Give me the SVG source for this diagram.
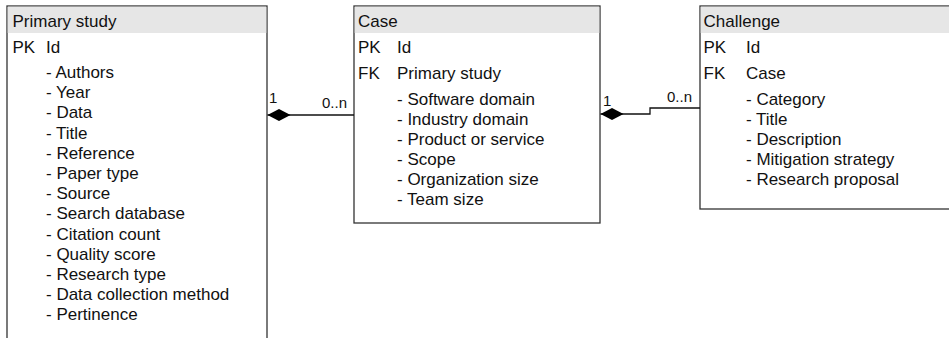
<svg xmlns="http://www.w3.org/2000/svg" width="949" height="338" viewBox="0 0 949 338">
<defs>
<style>
.box{fill:#ffffff;stroke:#333333;stroke-width:1.3}
.hdr{fill:#e6e6e6;stroke:none}
.t{font-family:"Liberation Sans",Arial,Helvetica,sans-serif;font-size:17px;fill:#111111}
.lbl{font-family:"Liberation Sans",Arial,Helvetica,sans-serif;font-size:15px;fill:#111111}
.edge{fill:none;stroke:#111111;stroke-width:1.3}
</style>
<marker id="diamond" markerUnits="userSpaceOnUse" markerWidth="24" markerHeight="14" refX="0" refY="6" orient="auto" overflow="visible">
<path d="M0,6 L11.5,0 L23,6 L11.5,12 Z" fill="#000000" stroke="none"/>
</marker>
</defs>
<rect width="949" height="338" fill="#ffffff"/>

<g id="primary-study">
<rect class="box" x="7" y="6" width="260" height="345"/>
<rect class="hdr" x="7.7" y="6.7" width="258.6" height="26.3"/>
<text class="t" x="12.5" y="27">Primary study</text>
<text class="t" x="12.5" y="53">PK</text>
<text class="t" x="46" y="53">Id</text>
<text class="t" x="46" y="78">- Authors</text>
<text class="t" x="46" y="98.2">- Year</text>
<text class="t" x="46" y="118.4">- Data</text>
<text class="t" x="46" y="138.6">- Title</text>
<text class="t" x="46" y="158.8">- Reference</text>
<text class="t" x="46" y="179">- Paper type</text>
<text class="t" x="46" y="199.2">- Source</text>
<text class="t" x="46" y="219.4">- Search database</text>
<text class="t" x="46" y="239.6">- Citation count</text>
<text class="t" x="46" y="259.8">- Quality score</text>
<text class="t" x="46" y="280">- Research type</text>
<text class="t" x="46" y="300.2">- Data collection method</text>
<text class="t" x="46" y="320.4">- Pertinence</text>
</g>

<g id="case">
<rect class="box" x="354" y="6" width="246" height="217"/>
<rect class="hdr" x="354.7" y="6.7" width="244.6" height="26.3"/>
<text class="t" x="358" y="27">Case</text>
<text class="t" x="358" y="53">PK</text>
<text class="t" x="397" y="53">Id</text>
<text class="t" x="358" y="79">FK</text>
<text class="t" x="397" y="79">Primary study</text>
<text class="t" x="397" y="105">- Software domain</text>
<text class="t" x="397" y="125">- Industry domain</text>
<text class="t" x="397" y="145">- Product or service</text>
<text class="t" x="397" y="165">- Scope</text>
<text class="t" x="397" y="185">- Organization size</text>
<text class="t" x="397" y="205">- Team size</text>
</g>

<g id="challenge">
<rect class="box" x="700" y="6" width="260" height="203"/>
<rect class="hdr" x="700.7" y="6.7" width="259" height="26.3"/>
<text class="t" x="703.5" y="27">Challenge</text>
<text class="t" x="703.5" y="53">PK</text>
<text class="t" x="746" y="53">Id</text>
<text class="t" x="703.5" y="79">FK</text>
<text class="t" x="746" y="79">Case</text>
<text class="t" x="746" y="105">- Category</text>
<text class="t" x="746" y="125">- Title</text>
<text class="t" x="746" y="145">- Description</text>
<text class="t" x="746" y="165">- Mitigation strategy</text>
<text class="t" x="746" y="185">- Research proposal</text>
</g>

<g id="connectors">
<path class="edge" d="M267.5,115 L354,115" marker-start="url(#diamond)"/>
<text class="lbl" x="269" y="103">1</text>
<text class="lbl" x="322" y="108">0..n</text>
<path class="edge" d="M600.5,114 L650,114 L650,108 L700,108" marker-start="url(#diamond)"/>
<text class="lbl" x="603" y="106">1</text>
<text class="lbl" x="667" y="102">0..n</text>
</g>
</svg>
